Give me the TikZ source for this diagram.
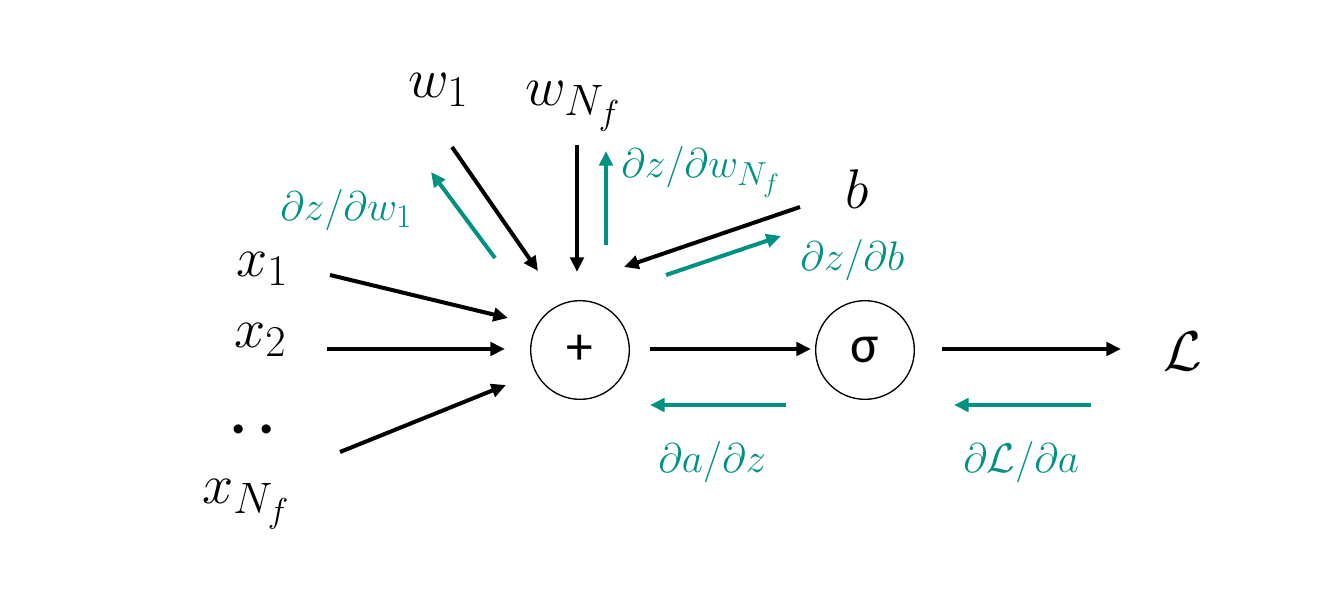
\RequirePackage{fix-cm}
\documentclass[tikz,border=0pt]{standalone}
\usepackage{fontspec}
\newfontfamily\sansgr{Carlito}
\usetikzlibrary{arrows.meta}
\definecolor{tealc}{RGB}{0,145,130}
\DeclareMathSizes{42}{42}{33}{26}
\DeclareMathSizes{31}{31}{25}{20}
\begin{document}
\begin{tikzpicture}[x=0.75pt,y=-0.75pt,
  fw/.style={line width=3pt,-{Triangle[length=11pt,width=10pt]}},
  bw/.style={fw,draw=tealc},
  var/.style={inner sep=0pt,anchor=base west,font=\fontsize{42}{48}\selectfont},
  grad/.style={inner sep=0pt,anchor=base west,text=tealc,font=\fontsize{31}{36}\selectfont},
  op/.style={circle,draw,line width=1pt,minimum size=74pt,inner sep=0pt,font=\sansgr\fontsize{40}{46}\selectfont}]
\useasboundingbox (0,0) rectangle (1343,604);
% operation nodes
\node[op] (plus) at (580,350) {+};
\node[op] (sig) at (865,350) {σ};
% variable labels
\node[var] (w1) at (408,97) {$w_1$};
\node[var] (wN) at (525,105) {$w_{N_f}$};
\node[var] (b) at (845,208) {$b$};
\node[var] (x1) at (236,276) {$x_1$};
\node[var] (x2) at (234,347) {$x_2$};
\node[var] (dots) at (230,433) {\sansgr\bfseries\fontsize{46}{52}\selectfont .\kern9pt.};
\node[var] (xN) at (202,503) {$x_{N_f}$};
\node[var] (L) at (1163,370) {$\mathcal{L}$};
% gradient labels
\node[grad] (gw1) at (280,220) {$\partial z/\partial w_1$};
\node[grad] (gwN) at (621,177) {$\partial z/\partial w_{N_f}$};
\node[grad] (gb) at (800,270) {$\partial z/\partial b$};
\node[grad] (gaz) at (658,472) {$\partial a/\partial z$};
\node[grad] (gLa) at (963,472) {$\partial \mathcal{L}/\partial a$};
% arrow end points
\coordinate (x1s) at (330,275); \coordinate (x1e) at (508,318);
\coordinate (x2s) at (327,349); \coordinate (x2e) at (505,349);
\coordinate (xNs) at (340,452); \coordinate (xNe) at (506,385);
\coordinate (w1s) at (452,147); \coordinate (w1e) at (538,271);
\coordinate (wNs) at (577,145); \coordinate (wNe) at (577,272);
\coordinate (bs) at (800,207); \coordinate (be) at (624,267);
\coordinate (tw1s) at (495,258); \coordinate (tw1e) at (431,172);
\coordinate (twNs) at (606,245); \coordinate (twNe) at (606,151);
\coordinate (tbs) at (666,275); \coordinate (tbe) at (781,236);
\coordinate (pss) at (650,349); \coordinate (pse) at (811,349);
\coordinate (sLs) at (942,349); \coordinate (sLe) at (1121,349);
\coordinate (tazs) at (786,405); \coordinate (taze) at (650,405);
\coordinate (tLas) at (1091,405); \coordinate (tLae) at (954,405);
% forward arrows
\draw[fw] (x1s) -- (x1e);
\draw[fw] (x2s) -- (x2e);
\draw[fw] (xNs) -- (xNe);
\draw[fw] (w1s) -- (w1e);
\draw[fw] (wNs) -- (wNe);
\draw[fw] (bs) -- (be);
\draw[fw] (pss) -- (pse);
\draw[fw] (sLs) -- (sLe);
% backward (gradient) arrows
\draw[bw] (tw1s) -- (tw1e);
\draw[bw] (twNs) -- (twNe);
\draw[bw] (tbs) -- (tbe);
\draw[bw] (tazs) -- (taze);
\draw[bw] (tLas) -- (tLae);
\end{tikzpicture}
\end{document}
